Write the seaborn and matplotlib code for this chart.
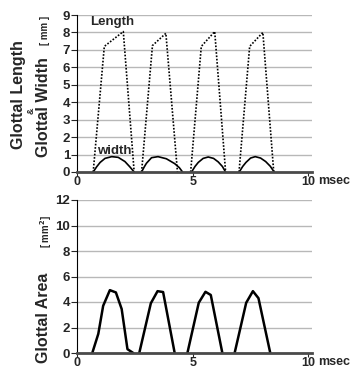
import numpy as np
import pandas as pd
import matplotlib
matplotlib.use("Agg")
import matplotlib.pyplot as plt
import matplotlib.transforms as mtransforms
import seaborn as sns

# glottal length (dotted), one list per cycle
len_t = [[0.70, 1.18, 2.00, 2.47],
         [2.79, 3.26, 3.84, 4.34],
         [4.91, 5.37, 5.95, 6.42],
         [7.00, 7.46, 8.03, 8.50]]
len_v = [[0, 7.2, 8.05, 0],
         [0, 7.25, 7.95, 0],
         [0, 7.2, 8.05, 0],
         [0, 7.2, 8.0, 0]]

# glottal width (solid)
wid_t = [[0.70, 0.85, 1.00, 1.21, 1.50, 1.78, 2.07, 2.28, 2.47],
         [2.79, 2.90, 3.00, 3.22, 3.50, 3.86, 4.22, 4.42, 4.56],
         [4.95, 5.10, 5.24, 5.45, 5.67, 5.90, 6.10, 6.28, 6.42],
         [7.01, 7.16, 7.30, 7.50, 7.70, 7.93, 8.15, 8.35, 8.52]]
wid_v = [[0, 0.30, 0.55, 0.78, 0.88, 0.84, 0.60, 0.30, 0],
         [0, 0.28, 0.50, 0.82, 0.88, 0.76, 0.48, 0.25, 0],
         [0, 0.32, 0.55, 0.78, 0.86, 0.78, 0.58, 0.32, 0],
         [0, 0.32, 0.55, 0.80, 0.88, 0.80, 0.60, 0.33, 0]]

# glottal area
area_t = [[0.66, 0.92, 1.13, 1.42, 1.68, 1.93, 2.18, 2.43],
          [2.69, 3.19, 3.48, 3.72, 4.22],
          [4.77, 5.26, 5.55, 5.78, 6.28],
          [6.81, 7.31, 7.60, 7.84, 8.35]]
area_v = [[0, 1.5, 3.7, 4.93, 4.75, 3.45, 0.3, 0],
          [0, 3.9, 4.85, 4.78, 0],
          [0, 3.94, 4.8, 4.55, 0],
          [0, 3.94, 4.85, 4.3, 0]]

xticks = [0, 5, 10]


def to_df(ts, vs):
    rows = []
    for i, (t, v) in enumerate(zip(ts, vs)):
        for a, b in zip(t, v):
            rows.append((i, a, b))
    return pd.DataFrame(rows, columns=["cycle", "t", "v"])


sns.set_style("white")
plt.rcParams["font.family"] = ["Liberation Sans", "DejaVu Sans"]
plt.rcParams["font.weight"] = "bold"

fig = plt.figure(figsize=(3.51, 3.70), dpi=100)
ax1 = fig.add_axes([77 / 351, 1 - 172 / 370, 234.7 / 351, 157 / 370])
ax2 = fig.add_axes([77 / 351, 1 - 353 / 370, 234.7 / 351, 153 / 370])


def style(ax, ymax, ystep):
    ax.set_xlim(0, 10.14)
    ax.set_ylim(0, ymax)
    ax.set_yticks(np.arange(0, ymax + 0.1, ystep))
    ax.set_xticks(xticks)
    ax.set_xticklabels([str(x) for x in xticks])
    ax.yaxis.grid(True, color="#b8b8b8", lw=1.0)
    ax.xaxis.grid(False)
    ax.set_axisbelow(True)
    for s in ["top", "right"]:
        ax.spines[s].set_visible(False)
    ax.spines["left"].set_color("black")
    ax.spines["left"].set_linewidth(0.8)
    ax.spines["bottom"].set_color("#4a4a4a")
    ax.spines["bottom"].set_linewidth(2.0)
    ax.tick_params(axis="y", direction="out", length=4, width=0.8, pad=1,
                   labelsize=9.5, left=True)
    ax.tick_params(axis="x", direction="out", length=3, width=0.8, pad=0,
                   labelsize=9, bottom=True)
    for lab in ax.get_xticklabels() + ax.get_yticklabels():
        lab.set_fontweight("bold")
    ax.set_xlabel("")
    ax.set_ylabel("")
    trans = mtransforms.blended_transform_factory(ax.transData, ax.transAxes)
    ax.text(10.42, -0.02, "msec", transform=trans, ha="left", va="top",
            fontsize=9, fontweight="bold")


sns.lineplot(data=to_df(len_t, len_v), x="t", y="v", units="cycle",
             estimator=None, color="black", lw=1.2, ls=(0, (1, 1)), ax=ax1)
sns.lineplot(data=to_df(wid_t, wid_v), x="t", y="v", units="cycle",
             estimator=None, color="black", lw=1.2, ax=ax1)
style(ax1, 9, 1)
ax1.text(0.56, 8.6, "Length", fontsize=9.5, fontweight="bold", va="center")
ax1.text(0.85, 1.22, "width", fontsize=9.5, fontweight="bold", va="center")

sns.lineplot(data=to_df(area_t, area_v), x="t", y="v", units="cycle",
             estimator=None, color="black", lw=1.8, ax=ax2)
style(ax2, 12, 2)

fig.text(19 / 351, 1 - 95 / 370, "Glottal Length", rotation=90, ha="center",
         va="center", fontsize=11.5, fontweight="bold")
fig.text(31 / 351, 1 - 111 / 370, "&", rotation=90, ha="center",
         va="center", fontsize=6.5, fontweight="bold")
fig.text(44 / 351, 1 - 107 / 370, "Glottal Width", rotation=90, ha="center",
         va="center", fontsize=11.5, fontweight="bold")
fig.text(45 / 351, 1 - 30 / 370, "[ mm ]", rotation=90, ha="center",
         va="center", fontsize=7, fontweight="bold")
fig.text(43 / 351, 1 - 318 / 370, "Glottal Area", rotation=90, ha="center",
         va="center", fontsize=11.5, fontweight="bold")
fig.text(46 / 351, 1 - 231 / 370, "[ mm$^2$]", rotation=90, ha="center",
         va="center", fontsize=7, fontweight="bold")

fig.savefig("out.png", dpi=100)
